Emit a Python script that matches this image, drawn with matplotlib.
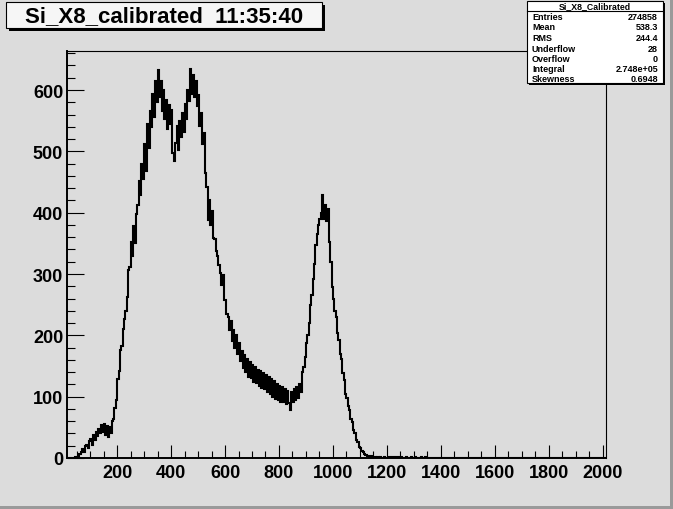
import matplotlib.pyplot as plt
import matplotlib.patches as mpatches
import numpy as np

# histogram: 5-unit bins starting at 15
bin_lo = 15
bin_w = 5
x_max = 2011
counts = [
    0, 0, 0, 0, 0, 0, 2, 1, 4, 7,                                  # 15-60
    9, 14, 10, 19, 22, 17, 28, 31, 22, 37,                         # 65-110
    29, 42, 36, 48, 41, 54, 42, 56, 37, 52,                        # 115-160
    35, 50, 40, 60, 63, 82, 94, 128, 142, 176,                     # 165-210
    182, 210, 226, 240, 262, 306, 312, 352, 330, 378,              # 215-260
    350, 398, 412, 452, 428, 480, 455, 512, 468, 545,              # 265-310
    505, 566, 540, 594, 556, 614, 580, 632, 588, 614,              # 315-360
    566, 600, 552, 584, 536, 576, 544, 568, 498, 484,              # 365-410
    514, 542, 502, 550, 524, 562, 532, 578, 552, 600,              # 415-460
    582, 634, 594, 624, 588, 614, 574, 592, 542, 562,              # 465-510
    512, 530, 464, 442, 388, 420, 380, 402, 358, 357,              # 515-560
    338, 330, 314, 302, 282, 298, 258, 258, 234, 230,              # 565-610
    208, 224, 190, 209, 180, 200, 170, 188, 158, 174,              # 615-660
    146, 168, 140, 162, 132, 156, 130, 152, 124, 148,              # 665-710
    122, 144, 118, 142, 114, 139, 113, 135, 108, 132,              # 715-760
    104, 128, 100, 126, 96, 121, 95, 118, 92, 115,                 # 765-810
    91, 112, 88, 110, 90, 78, 108, 92, 112, 94,                    # 815-860
    116, 98, 120, 108, 140, 148, 164, 188, 200, 220,               # 865-910
    250, 266, 292, 316, 347, 366, 380, 390, 400, 428,              # 915-960
    390, 412, 386, 406, 352, 320, 278, 260, 240, 230,              # 965-1010
    203, 192, 170, 162, 138, 127, 104, 98, 84, 78,                 # 1015-1060
    64, 58, 45, 41, 29, 26, 18, 16, 11, 10,                        # 1065-1110
    6, 5, 4, 3, 2, 3, 1, 2, 1, 0,                                  # 1115-1160
]
# sparse tail above 1160 (bin left edge: count)
tail = {1165: 1, 1175: 2, 1190: 1, 1205: 1, 1220: 2, 1235: 1,
        1250: 1, 1270: 1, 1290: 1, 1305: 1, 1325: 1, 1340: 1}

hist_title = "Si_X8_calibrated  11:35:40"
stats_name = "Si_X8_Calibrated"
stats_keys = ["Entries", "Mean", "RMS", "Underflow", "Overflow", "Integral", "Skewness"]
stats_vals = ["274858", "538.3", "244.4", "28", "0", "2.748e+05", "0.6948"]

# full bin array up to the axis end
edges = np.arange(bin_lo, x_max + bin_w, bin_w)
vals = np.zeros(len(edges) - 1)
vals[:len(counts)] = counts
for k, v in tail.items():
    vals[(k - bin_lo) // bin_w] = v

W, H = 673, 510
bg = '#dcdcdc'
plt.rcParams['font.family'] = ['Liberation Sans', 'DejaVu Sans']
plt.rcParams['font.weight'] = 'bold'

fig = plt.figure(figsize=(W / 100, H / 100), dpi=100, facecolor=bg)

# frame in pixel coords
left, right, top, bottom = 67.3, 605.5, 52, 459
ax = fig.add_axes([left / W, 1 - bottom / H, (right - left) / W, (bottom - top) / H])
ax.set_facecolor(bg)
ax.stairs(vals, edges, color='black', linewidth=1.5, baseline=None)
ax.set_xlim(bin_lo, x_max)
ax.set_ylim(0, 663.6)

ax.set_xticks(np.arange(200, 2001, 200))
ax.set_xticks(np.arange(50, 2011, 50), minor=True)
ax.set_yticks(np.arange(0, 601, 100))
ax.set_yticks(np.arange(0, 661, 20), minor=True)
ax.tick_params(axis='x', which='major', direction='in', length=9.4, width=0.8,
               labelsize=13, pad=4, top=False)
ax.tick_params(axis='x', which='minor', direction='in', length=5, width=0.8, top=False)
ax.tick_params(axis='y', which='major', direction='in', length=12, width=0.8,
               labelsize=13, pad=3, right=False)
ax.tick_params(axis='y', which='minor', direction='in', length=6, width=0.8, right=False)
for lab in ax.get_xticklabels() + ax.get_yticklabels():
    lab.set_fontweight('bold')
ax.spines['left'].set_linewidth(1.4)
ax.spines['bottom'].set_linewidth(1.4)
ax.spines['top'].set_linewidth(0.8)
ax.spines['right'].set_linewidth(0.8)

# overlay for boxes and canvas border
ov = fig.add_axes([0, 0, 1, 1], facecolor='none')
ov.set_xlim(0, W)
ov.set_ylim(H, 0)
ov.axis('off')

# canvas bevel (right and bottom)
ov.add_patch(mpatches.Rectangle((0, H - 3), W, 3, color='#9a9a9a', lw=0))
ov.add_patch(mpatches.Rectangle((W - 3, 0), 3, H, color='#9a9a9a', lw=0))

# title box with shadow
ov.add_patch(mpatches.Rectangle((9, 6), 316, 26, color='black', lw=0))
ov.add_patch(mpatches.Rectangle((6, 3), 316, 26, facecolor='#f6f6f6', edgecolor='black', lw=0.8))
ov.text(164, 17, hist_title, ha='center', va='center', fontsize=16, fontweight='bold')

# stats box with shadow
sx0, sy0, sw, sh = 527, 2, 136, 82
ov.add_patch(mpatches.Rectangle((sx0 + 2, sy0 + 2), sw, sh, color='black', lw=0))
ov.add_patch(mpatches.Rectangle((sx0, sy0), sw, sh, facecolor='white', edgecolor='black', lw=0.8))
ov.plot([sx0, sx0 + sw], [11.5, 11.5], color='black', lw=0.8)
ov.text(sx0 + sw / 2, 6.5, stats_name, ha='center', va='center', fontsize=6.3, fontweight='bold')
row_y = [17, 28, 38.5, 49, 59.5, 69, 80]
for key, val, yy in zip(stats_keys, stats_vals, row_y):
    ov.text(532, yy, key, ha='left', va='center', fontsize=6.5, fontweight='bold')
    ov.text(658, yy, val, ha='right', va='center', fontsize=6.5, fontweight='bold')

fig.savefig('out.png', dpi=100, facecolor=bg)
